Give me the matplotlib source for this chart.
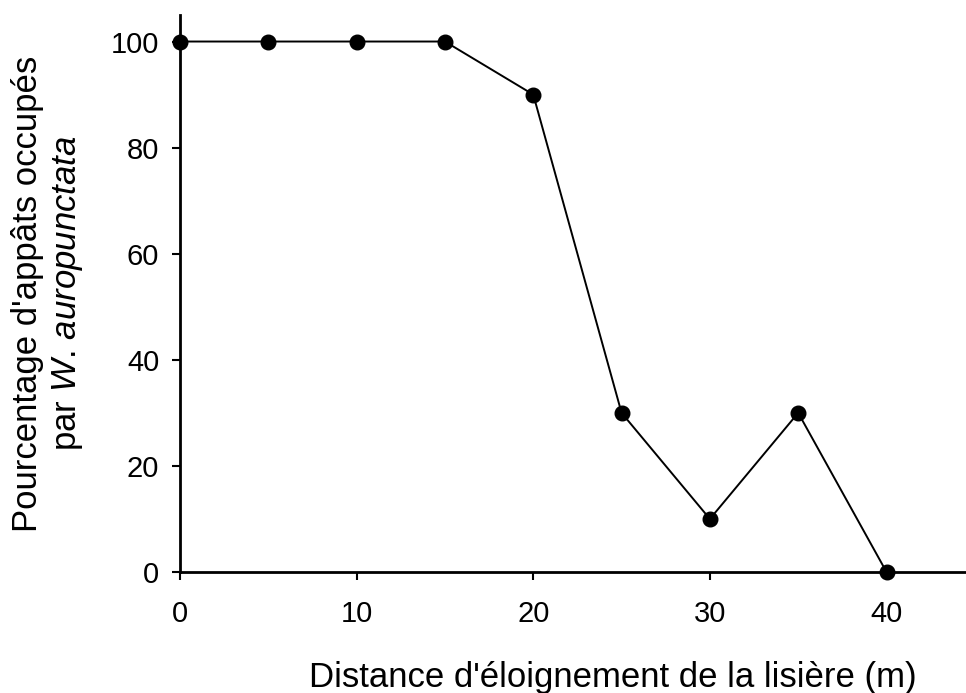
import matplotlib
matplotlib.use("Agg")
import matplotlib.pyplot as plt

plt.rcParams['font.family'] = ['Liberation Sans', 'DejaVu Sans']
plt.rcParams['mathtext.fontset'] = 'custom'
plt.rcParams['mathtext.it'] = 'Liberation Sans:italic'
plt.rcParams['mathtext.rm'] = 'Liberation Sans'

# distance from the edge (m) and % of baits occupied
distance = [0, 5, 10, 15, 20, 25, 30, 35, 40]
pct_occupied = [100, 100, 100, 100, 90, 30, 10, 30, 0]

xticks = [0, 10, 20, 30, 40]
yticks = [0, 20, 40, 60, 80, 100]

fig = plt.figure(figsize=(9.66, 6.93), dpi=100)
ax = fig.add_axes([180/966, 1 - 572/693, 1 - 180/966, (572 - 15)/693])

ax.plot(distance, pct_occupied, color='black', lw=1.4, marker='o',
        markersize=10.5, clip_on=False, zorder=3)

ax.set_xlim(0, 44.5)
ax.set_ylim(0, 105)
ax.set_xticks(xticks)
ax.set_yticks(yticks)
ax.tick_params(labelsize=21, width=1.5, length=6, direction='out')
ax.tick_params(axis='x', pad=14)
ax.tick_params(axis='y', pad=9)

for side in ['top', 'right']:
    ax.spines[side].set_visible(False)
for side in ['left', 'bottom']:
    ax.spines[side].set_linewidth(2)

ax.set_xlabel("Distance d'éloignement de la lisière (m)", fontsize=25)
ax.xaxis.set_label_coords((613 - 180)/786, -(687 - 572)/557)
ax.xaxis.label.set_va('baseline')

ax.set_ylabel("Pourcentage d'appâts occupés\npar $W$. $auropunctata$", fontsize=25,
              linespacing=1.2)
ax.yaxis.set_label_coords(-(180 - 48)/786, 0.5)
ax.yaxis.label.set_va('center')

fig.savefig("out.png", dpi=100)
